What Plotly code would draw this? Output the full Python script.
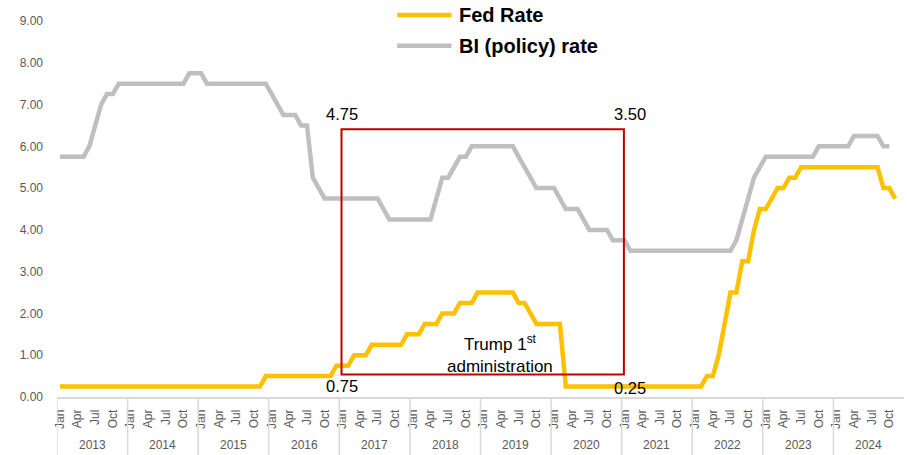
import plotly.graph_objects as go

# ---------------- data ----------------
years = [str(y) for y in range(2013, 2025)]
month_names = ["Jan", "Feb", "Mar", "Apr", "May", "Jun",
               "Jul", "Aug", "Sep", "Oct", "Nov", "Dec"]
shown_months = ["Jan", "Apr", "Jul", "Oct"]

fed_rate = (
    [0.25] * 12                                   # 2013
    + [0.25] * 12                                 # 2014
    + [0.25] * 11 + [0.50]                        # 2015
    + [0.50] * 11 + [0.75]                        # 2016
    + [0.75, 0.75, 1.00, 1.00, 1.00, 1.25, 1.25, 1.25, 1.25, 1.25, 1.25, 1.50]  # 2017
    + [1.50, 1.50, 1.75, 1.75, 1.75, 2.00, 2.00, 2.00, 2.25, 2.25, 2.25, 2.50]  # 2018
    + [2.50, 2.50, 2.50, 2.50, 2.50, 2.50, 2.25, 2.25, 2.00, 1.75, 1.75, 1.75]  # 2019
    + [1.75, 1.75] + [0.25] * 10                  # 2020
    + [0.25] * 12                                 # 2021
    + [0.25, 0.25, 0.50, 0.50, 1.00, 1.75, 2.50, 2.50, 3.25, 3.25, 4.00, 4.50]  # 2022
    + [4.50, 4.75, 5.00, 5.00, 5.25, 5.25, 5.50, 5.50, 5.50, 5.50, 5.50, 5.50]  # 2023
    + [5.50, 5.50, 5.50, 5.50, 5.50, 5.50, 5.50, 5.50, 5.00, 5.00, 4.75, None]  # 2024
)

bi_rate = (
    [5.75, 5.75, 5.75, 5.75, 5.75, 6.00, 6.50, 7.00, 7.25, 7.25, 7.50, 7.50]   # 2013
    + [7.50] * 10 + [7.75, 7.75]                                               # 2014
    + [7.75] + [7.50] * 11                                                     # 2015
    + [7.25, 7.00, 6.75, 6.75, 6.75, 6.50, 6.50, 5.25, 5.00, 4.75, 4.75, 4.75]  # 2016
    + [4.75] * 7 + [4.50, 4.25, 4.25, 4.25, 4.25]                              # 2017
    + [4.25, 4.25, 4.25, 4.25, 4.75, 5.25, 5.25, 5.50, 5.75, 5.75, 6.00, 6.00]  # 2018
    + [6.00] * 6 + [5.75, 5.50, 5.25, 5.00, 5.00, 5.00]                        # 2019
    + [5.00, 4.75, 4.50, 4.50, 4.50, 4.25, 4.00, 4.00, 4.00, 4.00, 3.75, 3.75]  # 2020
    + [3.75] + [3.50] * 11                                                     # 2021
    + [3.50] * 7 + [3.75, 4.25, 4.75, 5.25, 5.50]                              # 2022
    + [5.75] * 9 + [6.00, 6.00, 6.00]                                          # 2023
    + [6.00, 6.00, 6.00, 6.25, 6.25, 6.25, 6.25, 6.25, 6.00, 6.00, None, None]  # 2024
)

y_ticks = [0, 1, 2, 3, 4, 5, 6, 7, 8, 9]
series_names = ["Fed Rate", "BI (policy) rate"]
box_text = "Trump 1<sup>st</sup><br>administration"

# ---------------- derived ----------------
n = len(years) * 12
idx = list(range(n))
month_of = [month_names[i % 12] for i in idx]
tick_vals = [i for i in idx if month_of[i] in shown_months]
tick_text = [month_of[i] for i in tick_vals]

YELLOW = "#FFC000"
GREY = "#BFBFBF"
LABEL = "#595959"
FONT = "Liberation Sans, Arial, sans-serif"

fig = go.Figure()
fig.add_trace(go.Scatter(x=idx, y=fed_rate, mode="lines", name=series_names[0],
                         line=dict(color=YELLOW, width=4.5), connectgaps=False))
fig.add_trace(go.Scatter(x=idx, y=bi_rate, mode="lines", name=series_names[1],
                         line=dict(color=GREY, width=4.5), connectgaps=False))

shapes = []
annotations = []

# year dividers and year labels
for k, yr in enumerate(years):
    shapes.append(dict(type="line", xref="x", yref="paper",
                       x0=12 * k - 0.5, x1=12 * k - 0.5, y0=0, y1=-0.2,
                       line=dict(color="#D9D9D9", width=1.5)))
    annotations.append(dict(x=12 * k + 5.5, y=-0.127, xref="x", yref="paper",
                            text=yr, showarrow=False, xanchor="center", yanchor="middle",
                            font=dict(size=12, color=LABEL, family=FONT)))

# red box
shapes.append(dict(type="rect", xref="x", yref="y",
                   x0=47.87, x1=95.88, y0=0.54, y1=6.41,
                   line=dict(color="#C00000", width=2), fillcolor="rgba(0,0,0,0)"))

# value labels at the box corners (Jan 2017 and Feb 2021)
i_start = years.index("2017") * 12
i_end = years.index("2021") * 12 + 1
for x, val, yy in [(i_start, bi_rate[i_start], 6.77),
                   (i_start, fed_rate[i_start], 0.26),
                   (i_end, bi_rate[i_end], 6.77),
                   (i_end, fed_rate[i_end], 0.205)]:
    annotations.append(dict(x=x - 0.05, y=yy, xref="x", yref="y", text=f"{val:.2f}",
                            showarrow=False, xanchor="center", yanchor="middle",
                            font=dict(size=16.5, color="black", family=FONT)))

annotations.append(dict(x=74.8, y=1.02, xref="x", yref="y", text=box_text,
                        showarrow=False, xanchor="center", yanchor="middle", align="center",
                        font=dict(size=17, color="black", family=FONT)))

# manual legend (long line samples)
for name, col, ly in [(series_names[0], YELLOW, 1.016), (series_names[1], GREY, 0.934)]:
    shapes.append(dict(type="line", xref="paper", yref="paper",
                       x0=0.4016, x1=0.4658, y0=ly, y1=ly,
                       line=dict(color=col, width=4.5)))
    annotations.append(dict(x=0.4718, y=ly, xref="paper", yref="paper",
                            text=f"<b>{name}</b>", showarrow=False,
                            xanchor="left", yanchor="middle",
                            font=dict(size=20, color="black", family=FONT)))

fig.update_layout(
    width=907, height=455,
    margin=dict(l=57, r=3, t=21, b=58),
    paper_bgcolor="white", plot_bgcolor="white",
    showlegend=False,
    shapes=shapes, annotations=annotations,
    font=dict(family=FONT, color=LABEL),
    xaxis=dict(range=[-0.5, n - 0.5], tickmode="array", tickvals=tick_vals,
               ticktext=tick_text, tickangle=-90, showgrid=False, zeroline=False,
               showline=True, linecolor="#D9D9D9", linewidth=1.5, ticks="",
               ticklabelstandoff=6,
               tickfont=dict(size=12, color=LABEL, family=FONT)),
    yaxis=dict(range=[0, 9], tickmode="array", tickvals=y_ticks, tickformat=".2f",
               showgrid=False, zeroline=False, showline=False, ticks="",
               ticklabelstandoff=13,
               tickfont=dict(size=12, color=LABEL, family=FONT)),
)

fig.write_html("out.html",
               config={"displayModeBar": False},
               post_script="document.body.style.margin='0';document.body.style.padding='0';")
